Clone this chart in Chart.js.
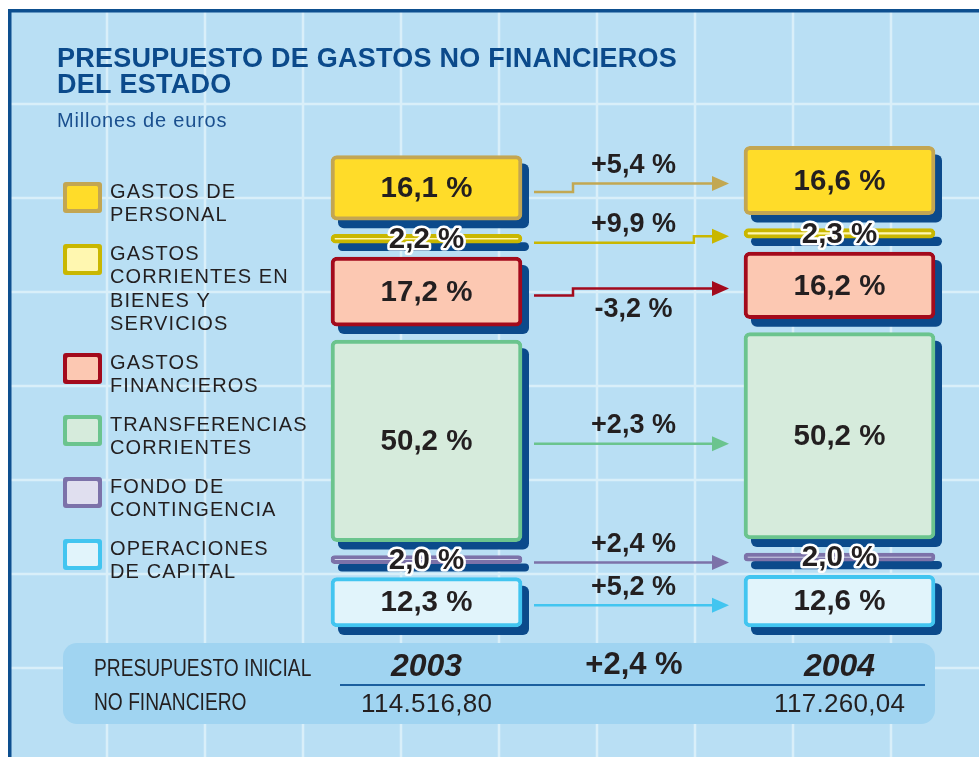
<!DOCTYPE html>
<html><head><meta charset="utf-8">
<script src="https://cdn.jsdelivr.net/npm/chart.js@4.4.1/dist/chart.umd.min.js"></script>
<style>html,body{margin:0;padding:0;background:#fff;}canvas{display:block;}</style>
</head><body>
<canvas id="c" width="979" height="757"></canvas>
<script>
// ---- data ----
const categories = [
  ['GASTOS DE', 'PERSONAL'],
  ['GASTOS', 'CORRIENTES EN', 'BIENES Y', 'SERVICIOS'],
  ['GASTOS', 'FINANCIEROS'],
  ['TRANSFERENCIAS', 'CORRIENTES'],
  ['FONDO DE', 'CONTINGENCIA'],
  ['OPERACIONES', 'DE CAPITAL']
];
const years = ['2003', '2004'];
const share2003 = [16.1, 2.2, 17.2, 50.2, 2.0, 12.3];
const share2004 = [16.6, 2.3, 16.2, 50.2, 2.0, 12.6];
const growth = [5.4, 9.9, -3.2, 2.3, 2.4, 5.2];
const totals = [114516.80, 117260.04];
const totalGrowth = 2.4;
const title = ['PRESUPUESTO DE GASTOS NO FINANCIEROS', 'DEL ESTADO'];
const subtitle = 'Millones de euros';
const bandLabel = ['PRESUPUESTO INICIAL', 'NO FINANCIERO'];

// ---- style ----
const fills = ['#ffdc29', '#fff7b0', '#fcc8b2', '#d6ebdc', '#e0dfef', '#e1f4fb'];
const borders = ['#c3a652', '#c9b700', '#a30a1c', '#6bc48e', '#7c72a9', '#42c5f0'];
const GAP = 4000; // visual gap between stacked blocks, in data units
const arrowSteps = [0.2, 0.82, 0.2, null, null, null];
const TXT = '#231f20';
const NAVY = '#0b4a8b';
const FONT = '"Liberation Sans", Arial, sans-serif';

const shares = [share2003, share2004];
const ranges = categories.map(() => []);
years.forEach((y, j) => {
  let base = 0;
  for (let i = categories.length - 1; i >= 0; i--) {
    const v = shares[j][i] / 100 * totals[j];
    ranges[i][j] = [base, base + v];
    base += v + GAP;
  }
});
const yMax = Math.max(...totals) + GAP * (categories.length - 1);

const fmtPct = v => v.toFixed(1).replace('.', ',') + ' %';
const fmtSigned = v => (v > 0 ? '+' : '') + fmtPct(v);
const fmtTotal = v => { const p = v.toFixed(2).split('.'); return p[0].replace(/\B(?=(\d{3})+(?!\d))/g, '.') + ',' + p[1]; };

function rr(c, x, y, w, h, r) { c.beginPath(); c.roundRect(x, y, w, h, Math.min(r, h / 2, w / 2)); }
function spaced(c, text, x, y, sp) {
  c.letterSpacing = sp + 'px';
  const w = c.measureText(text).width - sp;
  let sx = x;
  if (c.textAlign === 'center') sx = x - w / 2;
  const a = c.textAlign; c.textAlign = 'left';
  c.fillText(text, sx, y);
  c.textAlign = a; c.letterSpacing = '0px';
}

const datasets = categories.map((cat, i) => ({
  label: cat.join(' '),
  data: ranges[i],
  backgroundColor: fills[i],
  borderColor: borders[i],
  borderWidth: 4,
  borderRadius: 6,
  borderSkipped: false,
  barThickness: 191,
  grouped: false,
  clip: false
}));

const backdrop = {
  id: 'backdrop',
  beforeDraw(chart) {
    const c = chart.ctx, W = chart.width, H = chart.height;
    c.save();
    c.fillStyle = '#fff'; c.fillRect(0, 0, W, H);
    c.fillStyle = '#b9dff4'; c.fillRect(8, 9, W - 8, H - 9);
    c.strokeStyle = '#d9eff9'; c.lineWidth = 2.5;
    for (let x = 107; x < W; x += 98) { c.beginPath(); c.moveTo(x, 12); c.lineTo(x, H); c.stroke(); }
    for (let y = 104; y < H; y += 94) { c.beginPath(); c.moveTo(11, y); c.lineTo(W, y); c.stroke(); }
    c.fillStyle = '#0d4f8f';
    c.fillRect(8, 9, 3.5, H - 9);
    c.fillRect(8, 9, W - 8, 3.5);
    // title
    c.fillStyle = '#0b4a8b'; c.textBaseline = 'alphabetic'; c.textAlign = 'left';
    c.font = 'bold 27px ' + FONT;
    spaced(c, title[0], 57, 67, 0.25);
    spaced(c, title[1], 57, 93, 0.25);
    c.font = '20px ' + FONT;
    c.fillStyle = '#1a4f8e';
    spaced(c, subtitle, 57, 127, 0.8);
    // legend
    let ty = 191;
    categories.forEach((cat, i) => {
      c.fillStyle = borders[i]; rr(c, 63, ty - 9, 39, 31, 3); c.fill();
      c.fillStyle = fills[i]; rr(c, 67, ty - 5, 31, 23, 1.5); c.fill();
      c.fillStyle = TXT; c.textBaseline = 'middle';
      c.font = '20px ' + FONT;
      cat.forEach((line, k) => spaced(c, line, 110, ty + 1 + k * 23.5, 1.1));
      ty += cat.length * 23.5 + 15;
    });
    // bottom band
    const xs = chart.scales.x;
    const x0 = xs.getPixelForValue(0), x1 = xs.getPixelForValue(1);
    c.fillStyle = '#a0d4f1'; rr(c, 63, 643, 872, 81, 14); c.fill();
    c.fillStyle = TXT; c.textBaseline = 'middle'; c.textAlign = 'left';
    c.font = '24px ' + FONT;
    [669, 703].forEach((yy, k) => {
      c.save(); c.translate(94, yy); c.scale(0.8, 1); c.fillText(bandLabel[k], 0, 0); c.restore();
    });
    c.textAlign = 'center';
    c.font = 'italic bold 32px ' + FONT;
    c.fillText(years[0], x0, 667);
    c.fillText(years[1], x1, 667);
    c.font = 'bold 31px ' + FONT;
    c.fillText(fmtSigned(totalGrowth), (x0 + x1) / 2 + 1, 665);
    c.font = '26px ' + FONT;
    spaced(c, fmtTotal(totals[0]), x0, 705, 0.3);
    spaced(c, fmtTotal(totals[1]), x1, 705, 0.3);
    c.strokeStyle = '#1b5f9f'; c.lineWidth = 2;
    c.beginPath(); c.moveTo(340, 685); c.lineTo(925, 685); c.stroke();
    c.restore();
  },
  beforeDatasetsDraw(chart) {
    const c = chart.ctx;
    c.save(); c.fillStyle = NAVY;
    chart.data.datasets.forEach((ds, i) => {
      chart.getDatasetMeta(i).data.forEach(el => {
        const top = Math.min(el.y, el.base), h = Math.abs(el.base - el.y);
        rr(c, el.x - el.width / 2 + 7, top + 8, el.width, h, 6); c.fill();
      });
    });
    c.restore();
  },
  afterDatasetsDraw(chart) {
    const c = chart.ctx;
    c.save();
    // arrows + growth labels
    chart.data.datasets.forEach((ds, i) => {
      const m = chart.getDatasetMeta(i).data, L = m[0], R = m[1];
      const lc = (L.y + L.base) / 2, rc = (R.y + R.base) / 2;
      const sx = L.x + L.width / 2 + 12, ex = R.x - R.width / 2 - 15;
      const st = arrowSteps[i];
      let ly, ry, stepX;
      if (st == null) { ly = ry = lc + 3; stepX = sx; }
      else { ly = lc + 4; ry = rc + 3; stepX = sx + (ex - sx) * st; }
      c.strokeStyle = borders[i] === '#c3a652' ? '#c2a852' : borders[i];
      c.fillStyle = c.strokeStyle;
      c.lineWidth = 2.5; c.lineJoin = 'miter';
      c.beginPath(); c.moveTo(sx, ly); c.lineTo(stepX, ly); c.lineTo(stepX, ry); c.lineTo(ex - 14, ry); c.stroke();
      c.beginPath(); c.moveTo(ex, ry); c.lineTo(ex - 17, ry - 7.5); c.lineTo(ex - 17, ry + 7.5); c.closePath(); c.fill();
      const lx = (sx + ex) / 2 + 2;
      const segY = (st == null) ? ly : (stepX < lx ? ry : ly);
      c.fillStyle = TXT; c.textAlign = 'center'; c.textBaseline = 'middle';
      c.font = 'bold 27px ' + FONT;
      c.fillText(fmtSigned(growth[i]), lx, growth[i] >= 0 ? segY - 18 : segY + 21);
    });
    // value labels
    chart.data.datasets.forEach((ds, i) => {
      chart.getDatasetMeta(i).data.forEach((el, j) => {
        const v = shares[j][i], cy = (el.y + el.base) / 2 + 1;
        const t = fmtPct(v);
        c.font = 'bold 29.5px ' + FONT;
        c.textAlign = 'center'; c.textBaseline = 'middle';
        if (v < 5) {
          c.strokeStyle = '#fff'; c.lineWidth = 5; c.lineJoin = 'round';
          c.strokeText(t, el.x, cy);
        }
        c.fillStyle = TXT; c.fillText(t, el.x, cy);
      });
    });
    c.restore();
  }
};

new Chart(document.getElementById('c'), {
  type: 'bar',
  data: { labels: years, datasets },
  options: {
    responsive: false, animation: false, devicePixelRatio: 1,
    layout: { padding: { left: 426.5, right: 139.5, top: 146, bottom: 130 } },
    scales: {
      x: { display: false, offset: false },
      y: { display: false, min: 0, max: yMax }
    },
    plugins: { legend: { display: false }, tooltip: { enabled: false } }
  },
  plugins: [backdrop]
});
</script>
</body></html>
